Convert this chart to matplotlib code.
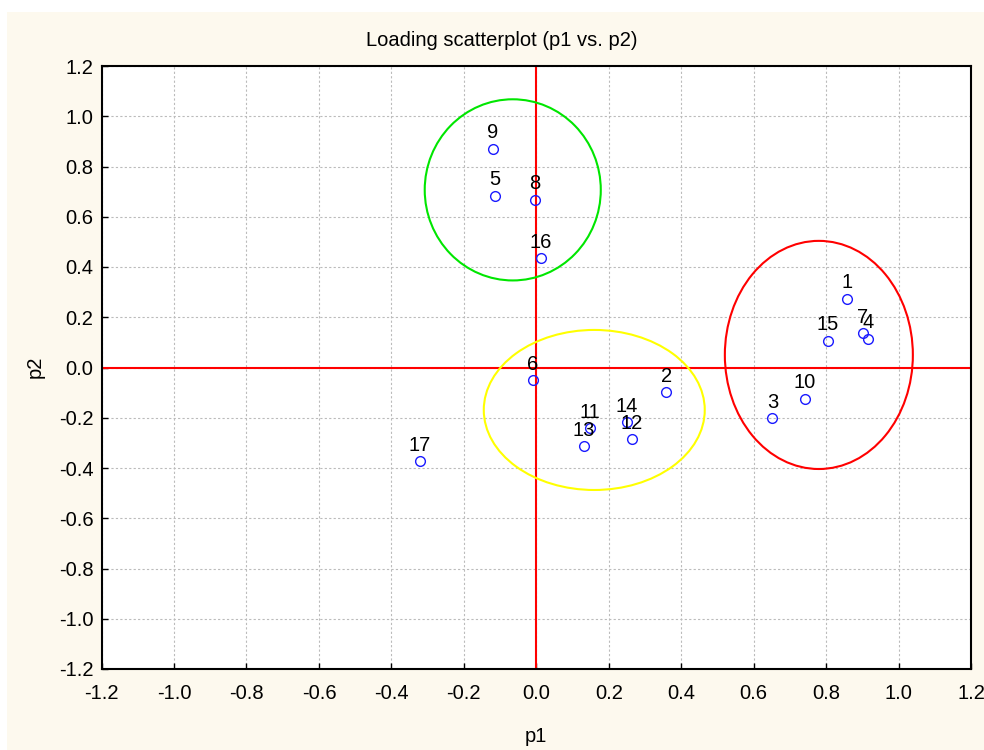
import matplotlib
matplotlib.use("Agg")
import matplotlib.pyplot as plt
from matplotlib.patches import Ellipse, Rectangle

plt.rcParams['font.family'] = ['Liberation Sans', 'DejaVu Sans']

labels = ['1', '2', '3', '4', '5', '6', '7', '8', '9', '10', '11', '12', '13', '14', '15', '16', '17']
p1 = [0.857, 0.359, 0.652, 0.915, -0.114, -0.009, 0.901, -0.004, -0.120, 0.741,
      0.148, 0.264, 0.131, 0.250, 0.805, 0.013, -0.321]
p2 = [0.273, -0.098, -0.201, 0.114, 0.683, -0.050, 0.137, 0.667, 0.870, -0.125,
      -0.241, -0.285, -0.313, -0.217, 0.106, 0.436, -0.373]

# cluster ellipses: center x, center y, width, height, colour
ell_cx = [-0.065, 0.780, 0.160]
ell_cy = [0.707, 0.050, -0.169]
ell_w = [0.486, 0.519, 0.610]
ell_h = [0.721, 0.908, 0.637]
ell_col = ['#00e600', '#ff0000', '#ffff00']

ticks = [-1.2, -1.0, -0.8, -0.6, -0.4, -0.2, 0.0, 0.2, 0.4, 0.6, 0.8, 1.0, 1.2]

FS = 14.5

fig = plt.figure(figsize=(9.84, 7.5), dpi=100)
fig.patch.set_facecolor('white')
fig.patches.append(Rectangle((7/984, 0), 1 - 7/984, 1 - 12/750, transform=fig.transFigure,
                             facecolor='#fdf9ee', edgecolor='none', zorder=-10))

ax = fig.add_axes([101.6/984, 1 - 669/750, (971 - 101.6)/984, (669 - 66)/750])
ax.set_facecolor('white')
ax.set_xlim(-1.2, 1.2)
ax.set_ylim(-1.2, 1.2)
ax.set_xticks(ticks)
ax.set_yticks(ticks)
ax.set_xticklabels([f"{t:.1f}" for t in ticks])
ax.set_yticklabels([f"{t:.1f}" for t in ticks])
ax.tick_params(direction='in', length=4, width=1, labelsize=FS)
ax.tick_params(axis='y', pad=6)
ax.tick_params(axis='x', pad=11)
ax.grid(True, color='#bbbbbb', linestyle=(0, (2, 2)), linewidth=0.8)
ax.set_axisbelow(True)
for s in ax.spines.values():
    s.set_linewidth(1.5)

ax.axhline(0, color='#ff0000', lw=1.5, zorder=2)
ax.axvline(0, color='#ff0000', lw=1.5, zorder=2)

for cx, cy, w, h, c in zip(ell_cx, ell_cy, ell_w, ell_h, ell_col):
    ax.add_patch(Ellipse((cx, cy), w, h, fill=False, edgecolor=c, lw=1.5, zorder=3))

ax.plot(p1, p2, linestyle='none', marker='o', ms=7, mfc='none', mec='#1a1aff', mew=1, zorder=4)
for x, y, t in zip(p1, p2, labels):
    ax.annotate(t, (x, y), xytext=(0, 7.5), textcoords='offset points', ha='center', va='baseline',
                fontsize=FS, color='black', zorder=5)

fig.text(502/984, 1 - 40/750, 'Loading scatterplot (p1 vs. p2)', ha='center', va='center', fontsize=FS)
fig.text(536/984, 1 - 736/750, 'p1', ha='center', va='center', fontsize=FS)
fig.text(35/984, 1 - 367/750, 'p2', ha='center', va='center', fontsize=FS, rotation=90)

fig.savefig('out.png', dpi=100)
